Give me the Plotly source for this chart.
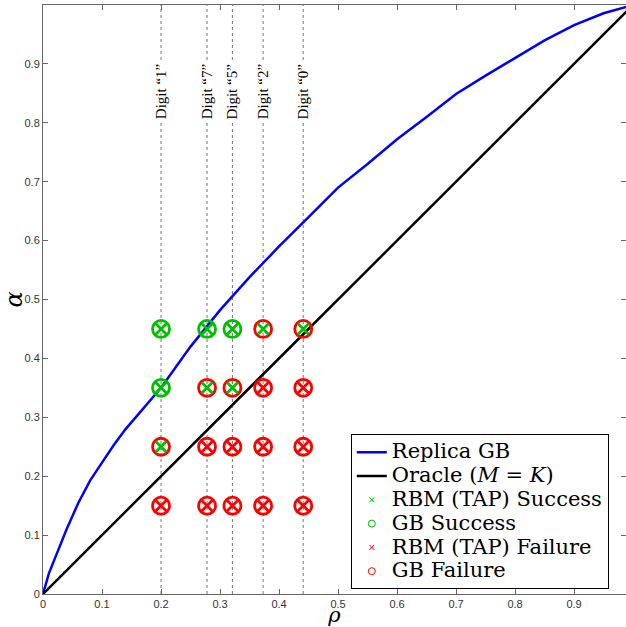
import plotly.graph_objects as go

# Replica GB curve
rho_curve = [0, 0.01, 0.02, 0.04, 0.06, 0.08, 0.1, 0.12, 0.14, 0.16, 0.18, 0.2,
             0.25, 0.3, 0.35, 0.4, 0.45, 0.5, 0.55, 0.6, 0.65, 0.7, 0.75, 0.8,
             0.85, 0.9, 0.95, 1.0]
alpha_curve = [0, 0.035, 0.06, 0.11, 0.155, 0.193, 0.223, 0.253, 0.28, 0.303, 0.327, 0.35,
               0.42, 0.482, 0.538, 0.59, 0.64, 0.69, 0.73, 0.772, 0.81, 0.849, 0.88, 0.91,
               0.94, 0.966, 0.986, 1.0]
# Oracle line
rho_oracle = [0, 1]
alpha_oracle = [0, 1]

# Digits
digit_names = ["1", "7", "5", "2", "0"]
digit_rho = [0.2, 0.278, 0.321, 0.373, 0.441]
alpha_levels = [0.15, 0.25, 0.35, 0.45]
# rows follow alpha_levels, columns follow digits (1 = success)
rbm_success = [
    [0, 0, 0, 0, 0],
    [1, 0, 0, 0, 0],
    [1, 1, 1, 0, 0],
    [1, 1, 1, 1, 1],
]
gb_success = [
    [0, 0, 0, 0, 0],
    [0, 0, 0, 0, 0],
    [1, 0, 0, 0, 0],
    [1, 1, 1, 0, 0],
]

legend_names = ["Replica GB", "Oracle (<i>M</i> = <i>K</i>)", "RBM (TAP) Success",
                "GB Success", "RBM (TAP) Failure", "GB Failure"]

GREEN = "#00c000"
RED = "#ff0000"
SERIF = "DejaVu Serif, Liberation Serif, serif"


def big(t):
    return '<span style="font-size:21px">' + t + '</span>'


fig = go.Figure()

# dotted vertical lines per digit
for r in digit_rho:
    fig.add_trace(go.Scatter(x=[r, r], y=[0, 1], mode="lines",
                             line=dict(color="#555555", width=0.8, dash="dot"),
                             showlegend=False, hoverinfo="skip"))

fig.add_trace(go.Scatter(x=rho_curve, y=alpha_curve, mode="lines",
                         line=dict(color="#0000ff", width=2.5), name=big(legend_names[0])))
fig.add_trace(go.Scatter(x=rho_oracle, y=alpha_oracle, mode="lines",
                         line=dict(color="#000000", width=2.5), name=big(legend_names[1])))


def pts(mat, val):
    xs, ys = [], []
    for i, a in enumerate(alpha_levels):
        for j, r in enumerate(digit_rho):
            if mat[i][j] == val:
                xs.append(r)
                ys.append(a)
    return xs, ys


# circles first
gx, gy = pts(gb_success, 1)
fx, fy = pts(gb_success, 0)
fig.add_trace(go.Scatter(x=fx, y=fy, mode="markers", showlegend=False,
                         marker=dict(symbol="circle-open", size=17, color=RED, line=dict(width=2.8))))
fig.add_trace(go.Scatter(x=gx, y=gy, mode="markers", showlegend=False,
                         marker=dict(symbol="circle-open", size=17, color=GREEN, line=dict(width=2.8))))
rx, ry = pts(rbm_success, 1)
qx, qy = pts(rbm_success, 0)
fig.add_trace(go.Scatter(x=qx, y=qy, mode="markers", showlegend=False,
                         marker=dict(symbol="x-thin-open", size=11, color=RED, line=dict(width=2.8, color=RED))))
fig.add_trace(go.Scatter(x=rx, y=ry, mode="markers", showlegend=False,
                         marker=dict(symbol="x-thin-open", size=11, color=GREEN, line=dict(width=2.8, color=GREEN))))

# legend-only entries with small markers
fig.add_trace(go.Scatter(x=[None], y=[None], mode="markers", name=big(legend_names[2]),
                         marker=dict(symbol="x-thin-open", size=5, color=GREEN, line=dict(width=1, color=GREEN))))
fig.add_trace(go.Scatter(x=[None], y=[None], mode="markers", name=big(legend_names[3]),
                         marker=dict(symbol="circle-open", size=7, color=GREEN, line=dict(width=1))))
fig.add_trace(go.Scatter(x=[None], y=[None], mode="markers", name=big(legend_names[4]),
                         marker=dict(symbol="x-thin-open", size=5, color=RED, line=dict(width=1, color=RED))))
fig.add_trace(go.Scatter(x=[None], y=[None], mode="markers", name=big(legend_names[5]),
                         marker=dict(symbol="circle-open", size=7, color=RED, line=dict(width=1))))

for name, r in zip(digit_names, digit_rho):
    fig.add_annotation(x=r, y=0.852, xref="x", yref="y", text="Digit \u201c" + name + "\u201d",
                       textangle=-90, showarrow=False, bgcolor="white",
                       font=dict(family="Liberation Serif, serif", size=15, color="black"), borderpad=2)

axis_common = dict(showgrid=False, zeroline=False, showline=True, linecolor="#666666", linewidth=1,
                   ticks="inside", ticklen=5, tickcolor="#666666", mirror="ticks", automargin=False,
                   tickfont=dict(family="Liberation Sans, Arial, sans-serif", size=11, color="#333333"))

fig.update_layout(
    width=626, height=627,
    margin=dict(l=43, r=0, t=5, b=33),
    plot_bgcolor="white", paper_bgcolor="white",
    xaxis=dict(range=[0, 0.988], tickvals=[0, 0.1, 0.2, 0.3, 0.4, 0.5, 0.6, 0.7, 0.8, 0.9],
               title=dict(text="<i>\u03c1</i>", font=dict(family=SERIF, size=21, color="black"), standoff=5),
               **axis_common),
    yaxis=dict(range=[0, 1], tickvals=[0, 0.1, 0.2, 0.3, 0.4, 0.5, 0.6, 0.7, 0.8, 0.9, 1],
               title=dict(text="<i>\u03b1</i>", font=dict(family=SERIF, size=24, color="black"), standoff=4),
               **axis_common),
    legend=dict(x=0.528, y=0.008, xanchor="left", yanchor="bottom",
                bgcolor="white", bordercolor="black", borderwidth=1,
                font=dict(family=SERIF, size=16, color="black"),
                tracegroupgap=0, itemwidth=30),
    showlegend=True,
)

fig.write_html("out.html", post_script="document.body.style.margin='0';",
               config={"displayModeBar": False})
